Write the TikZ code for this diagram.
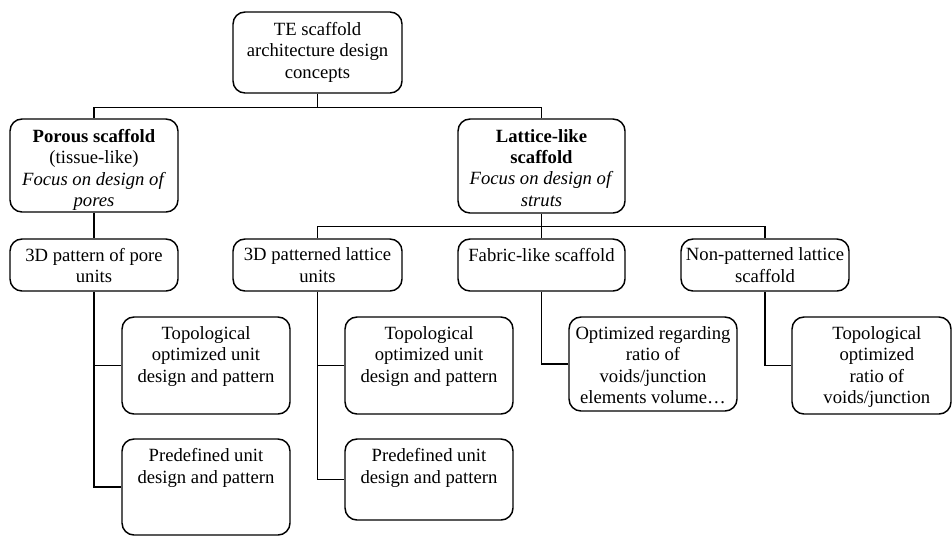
\documentclass[tikz,border=0pt]{standalone}
\usepackage{fontspec}
\setmainfont{Liberation Serif}
\begin{document}
\begin{tikzpicture}[x=0.75pt, y=-0.75pt,
    frame/.style 2 args={draw=black, line width=1.1pt, rounded corners=9pt,
        minimum width=#1*0.75pt, minimum height=#2*0.75pt, inner sep=0pt},
    txt/.style={anchor=north, align=center, inner sep=0pt,
        font=\fontsize{14pt}{16pt}\selectfont},
    link/.style={draw=black, line width=1.1pt}]
    \useasboundingbox (0,0) rectangle (952,536);

    % level 0 and 1
    \node[frame={169}{81}] (top) at (317.5,52.5) {};
    \node[txt] (topT) at ([yshift=-8pt]top.north) {TE scaffold\\architecture design\\concepts};
    \node[frame={168}{93}] (porous) at (94,165.5) {};
    \node[txt] (porousT) at ([yshift=-8pt]porous.north) {\textbf{Porous scaffold}\\(tissue-like)\\\textit{Focus on design of}\\\textit{pores}};
    \node[frame={167}{94}] (lattice) at (541.5,166) {};
    \node[txt] (latticeT) at ([yshift=-8pt]lattice.north) {\textbf{Lattice-like}\\\textbf{scaffold}\\\textit{Focus on design of}\\\textit{struts}};

    % level 2
    \node[frame={168}{52}] (poreunits) at (94,265) {};
    \node[txt] (poreunitsT) at ([yshift=-7pt]poreunits.north) {3D pattern of pore\\units};
    \node[frame={169}{52}] (latunits) at (317.5,265) {};
    \node[txt] (latunitsT) at ([yshift=-7pt]latunits.north) {3D patterned lattice\\units};
    \node[frame={167}{52}] (fabric) at (541.5,265) {};
    \node[txt] (fabricT) at ([yshift=-7pt]fabric.north) {Fabric-like scaffold};
    \node[frame={168}{52}] (nonpat) at (765,265) {};
    \node[txt] (nonpatT) at ([yshift=-7pt]nonpat.north) {Non-patterned lattice\\scaffold};

    % level 3
    \node[frame={168}{97}] (topoA) at (206,365.5) {};
    \node[txt] (topoAT) at ([yshift=-7.5pt]topoA.north) {Topological\\optimized unit\\design and pattern};
    \node[frame={168}{96}] (predefA) at (206,487) {};
    \node[txt] (predefAT) at ([yshift=-7.5pt]predefA.north) {Predefined unit\\design and pattern};
    \node[frame={168}{97}] (topoB) at (429,365.5) {};
    \node[txt] (topoBT) at ([yshift=-7.5pt]topoB.north) {Topological\\optimized unit\\design and pattern};
    \node[frame={168}{81}] (predefB) at (429,479.5) {};
    \node[txt] (predefBT) at ([yshift=-7.5pt]predefB.north) {Predefined unit\\design and pattern};
    \node[frame={168}{94}] (optim) at (653,364) {};
    \node[txt] (optimT) at ([yshift=-7.5pt]optim.north) {Optimized regarding\\ratio of\\voids/junction\\elements volume…};
    \node[frame={159}{97}] (topoD) at (871.5,365.5) {};
    \node[txt] (topoDT) at ([xshift=4pt,yshift=-7.5pt]topoD.north) {Topological\\optimized\\ratio of\\voids/junction};

    % connectors
    \draw[link] (porous.north) |- ([yshift=-10.5pt]top.south) -| (lattice.north);
    \draw[link] (top.south) -- ++(0,14);
    \draw[link] (porous.south) -- (poreunits.north);
    \draw[link] (latunits.north) |- ([yshift=-9.75pt]lattice.south) -| (nonpat.north);
    \draw[link] (lattice.south) -- (fabric.north);
    \draw[link] (topoA.west) -- (poreunits.south |- topoA.west);
    \draw[link] (poreunits.south) |- (predefA.west);
    \draw[link] (topoB.west) -- (latunits.south |- topoB.west);
    \draw[link] (latunits.south) |- (predefB.west);
    \draw[link] (fabric.south) |- (optim.west);
    \draw[link] (nonpat.south) |- (topoD.west);
\end{tikzpicture}
\end{document}
